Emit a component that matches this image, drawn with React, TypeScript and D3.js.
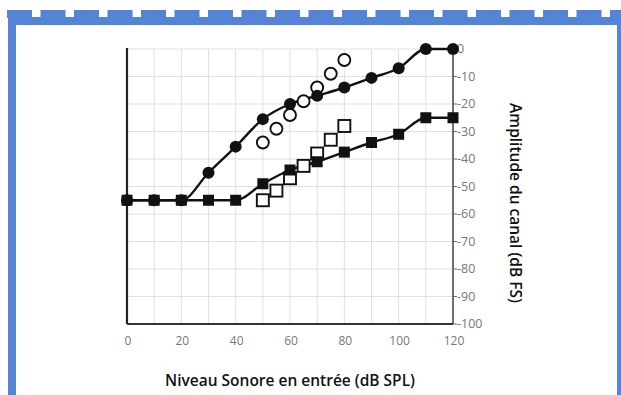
import * as d3 from "d3";

// niveaux d'entrée (dB SPL)
const inputLevels = [0, 10, 20, 30, 40, 50, 60, 70, 80, 90, 100, 110, 120];
// courbe ronds pleins
const circleFilled = [-55, -55, -55, -45, -35.5, -25.5, -20, -17, -14, -10.5, -7, 0, 0];
// courbe carrés pleins
const squareFilled = [-55, -55, -55, -55, -55, -49, -44, -41, -37.5, -34, -31, -25, -25];

// mesures ouvertes
const openLevels = [50, 55, 60, 65, 70, 75, 80];
const circleOpen = [-34, -29, -24, -19, -14, -9, -4];
const squareOpen = [-55, -51.5, -47, -42.5, -38, -33, -28];

const xTicks = [0, 20, 40, 60, 80, 100, 120];
const yTicks = [0, -10, -20, -30, -40, -50, -60, -70, -80, -90, -100];
const gridX = d3.range(0, 121, 10);

const W = 621;
const H = 395;
const BLUE = "#5583d5";

export default function App() {
  const x = d3.scaleLinear().domain([0, 120]).range([127, 453]);
  const y = d3.scaleLinear().domain([-100, 0]).range([324, 49]);

  const line = d3
    .line<[number, number]>()
    .x((d) => x(d[0]))
    .y((d) => y(d[1]))
    .curve(d3.curveMonotoneX);

  const circPts = inputLevels.map((v, i) => [v, circleFilled[i]] as [number, number]);
  const sqPts = inputLevels.map((v, i) => [v, squareFilled[i]] as [number, number]);

  // petits créneaux du bandeau bleu en haut
  const blocks = d3.range(7, W, 33.5);

  return (
    <svg
      width={W}
      height={H}
      style={{ position: "absolute", left: 0, top: 0, background: "#fff" }}
    >
      {/* cadre bleu */}
      <rect x={8} y={17} width={W - 8} height={8} fill={BLUE} />
      {blocks.map((b, i) => (
        <rect key={"b" + i} x={b} y={10} width={25} height={8} fill={BLUE} />
      ))}
      <rect x={8} y={17} width={8} height={H - 17} fill={BLUE} />
      <rect x={617} y={17} width={4} height={H - 17} fill={BLUE} />

      {/* grille */}
      <g stroke="#e0e0e0" strokeWidth={1}>
        {gridX.map((g) => (
          <line key={"gx" + g} x1={x(g)} x2={x(g)} y1={y(0)} y2={y(-100)} />
        ))}
        {yTicks.map((t) => (
          <line key={"gy" + t} x1={x(0)} x2={x(120)} y1={y(t)} y2={y(t)} />
        ))}
      </g>

      {/* axes */}
      <line x1={x(0)} x2={x(0)} y1={y(0) - 1} y2={y(-100)} stroke="#222" strokeWidth={2.2} />
      <line x1={x(0)} x2={x(120)} y1={y(-100)} y2={y(-100)} stroke="#333" strokeWidth={1.8} />
      <line x1={x(120)} x2={x(120)} y1={y(0)} y2={y(-100)} stroke="#444" strokeWidth={1.5} />
      <g stroke="#666" strokeWidth={1}>
        {yTicks.map((t) => (
          <line key={"tk" + t} x1={x(120)} x2={x(120) + 4} y1={y(t)} y2={y(t)} />
        ))}
      </g>

      <g fontFamily="'Open Sans', sans-serif" fontSize={12.5} fill="#777">
        {yTicks.map((t) => (
          <text key={"yl" + t} x={x(120) + 4} y={y(t)} dy="0.35em">
            {String(t)}
          </text>
        ))}
        {xTicks.map((t) => (
          <text key={"xl" + t} x={x(t) + 1} y={345} textAnchor="middle" fontSize={12}>
            {t}
          </text>
        ))}
      </g>

      {/* courbes */}
      <path d={line(circPts) ?? ""} fill="none" stroke="#111" strokeWidth={2.4} />
      <path d={line(sqPts) ?? ""} fill="none" stroke="#111" strokeWidth={2.4} />

      {/* mesures ouvertes */}
      {openLevels.map((v, i) => (
        <rect
          key={"os" + i}
          x={x(v) - 6}
          y={y(squareOpen[i]) - 6}
          width={12}
          height={12}
          fill="#fff"
          stroke="#111"
          strokeWidth={1.9}
        />
      ))}
      {openLevels.map((v, i) => (
        <circle
          key={"oc" + i}
          cx={x(v)}
          cy={y(circleOpen[i])}
          r={6}
          fill="#fff"
          stroke="#111"
          strokeWidth={1.9}
        />
      ))}

      {/* marqueurs pleins */}
      {sqPts.map((d, i) => (
        <rect
          key={"fs" + i}
          x={x(d[0]) - 5.5}
          y={y(d[1]) - 5.5}
          width={11}
          height={11}
          fill="#111"
        />
      ))}
      {circPts.map((d, i) => (
        <circle key={"fc" + i} cx={x(d[0])} cy={y(d[1])} r={6} fill="#111" />
      ))}

      {/* titres */}
      <text
        x={290}
        y={386}
        textAnchor="middle"
        fontFamily="'Open Sans', sans-serif"
        fontWeight={600}
        fontSize={15.5}
        fill="#111"
      >
        Niveau Sonore en entrée (dB SPL)
      </text>
      <text
        transform={`translate(510,203) rotate(90)`}
        textAnchor="middle"
        fontFamily="'Open Sans', sans-serif"
        fontWeight={600}
        fontSize={15.5}
        fill="#111"
      >
        Amplitude du canal (dB FS)
      </text>
    </svg>
  );
}
